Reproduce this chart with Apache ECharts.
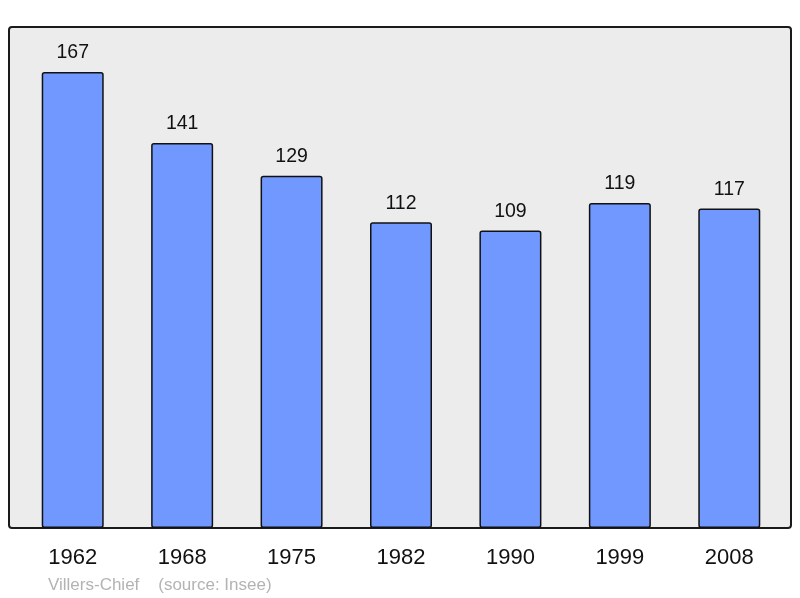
<!DOCTYPE html>
<html><head><meta charset="utf-8">
<script src="https://cdn.jsdelivr.net/npm/echarts@6/dist/echarts.min.js"></script>
<style>html,body{margin:0;padding:0;background:#fff}#c{width:800px;height:598px}</style>
</head><body><div id="c"></div>
<script>
const years = ['1962','1968','1975','1982','1990','1999','2008'];
const population = [167,141,129,112,109,119,117];
const footerText = 'Villers-Chief    (source: Insee)';

const chart = echarts.init(document.getElementById('c'));
chart.setOption({
  animation:false,
  backgroundColor:'#ffffff',
  textStyle:{fontFamily:'Liberation Sans, Arial, sans-serif'},
  title:{text:footerText,left:43,top:572,textStyle:{color:'#b3b3b3',fontSize:17,fontWeight:'normal',fontFamily:'Liberation Sans, Arial, sans-serif'}},
  graphic:[{type:'rect',z:-10,shape:{x:9,y:27,width:782,height:501,r:3},style:{fill:'#ececec',stroke:'#1a1a1a',lineWidth:2}}],
  grid:{left:18,right:16,top:27,bottom:70},
  xAxis:{type:'category',data:years,axisLine:{show:false},axisTick:{show:false},
    axisLabel:{color:'#111',fontSize:22,margin:19,fontFamily:'Liberation Sans, Arial, sans-serif'}},
  yAxis:{type:'value',min:0,max:183.5,show:false,splitLine:{show:false}},
  series:[{type:'bar',data:population,barWidth:62,
    itemStyle:{color:'#7098ff',borderColor:'#111',borderWidth:1.5,borderRadius:2},
    label:{show:true,position:'top',distance:9,color:'#111',fontSize:19.5,fontFamily:'Liberation Sans, Arial, sans-serif'}}]
});
</script></body></html>
